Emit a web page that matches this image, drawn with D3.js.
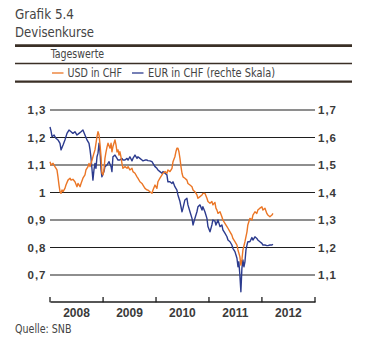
<!DOCTYPE html>
<html><head><meta charset="utf-8">
<script src="https://cdn.jsdelivr.net/npm/d3@7"></script>
<style>
html,body{margin:0;padding:0;background:#fff;}
svg{display:block;}
</style></head>
<body><svg id="c" width="382" height="355"></svg>
<script>
// ---- data ----
const usdDates = ["2008-01-01","2008-01-08","2008-01-22","2008-02-04","2008-02-18","2008-02-25","2008-03-03","2008-03-10","2008-03-17","2008-03-24","2008-03-31","2008-04-13","2008-04-20","2008-05-04","2008-05-18","2008-05-25","2008-06-07","2008-06-21","2008-07-05","2008-07-12","2008-07-26","2008-08-02","2008-08-15","2008-08-29","2008-09-05","2008-09-19","2008-09-26","2008-10-03","2008-10-17","2008-10-30","2008-11-06","2008-11-13","2008-11-20","2008-11-27","2008-12-04","2008-12-11","2008-12-18","2008-12-24","2008-12-31","2009-01-07","2009-01-14","2009-01-21","2009-01-28","2009-02-04","2009-02-18","2009-02-25","2009-03-03","2009-03-10","2009-03-24","2009-03-31","2009-04-07","2009-04-14","2009-04-21","2009-04-27","2009-05-04","2009-05-11","2009-05-18","2009-06-01","2009-06-15","2009-06-22","2009-07-05","2009-07-19","2009-07-26","2009-08-09","2009-08-23","2009-08-29","2009-09-12","2009-09-26","2009-10-03","2009-10-17","2009-10-31","2009-11-06","2009-11-20","2009-12-04","2009-12-11","2009-12-25","2010-01-07","2010-01-14","2010-01-28","2010-02-11","2010-02-18","2010-03-04","2010-03-17","2010-03-24","2010-04-07","2010-04-21","2010-04-28","2010-05-11","2010-05-18","2010-05-25","2010-06-01","2010-06-08","2010-06-15","2010-06-22","2010-06-29","2010-07-06","2010-07-19","2010-08-02","2010-08-09","2010-08-23","2010-09-06","2010-09-13","2010-09-26","2010-10-10","2010-10-17","2010-10-31","2010-11-14","2010-11-20","2010-12-04","2010-12-18","2010-12-25","2011-01-08","2011-01-21","2011-01-28","2011-02-11","2011-02-18","2011-02-25","2011-03-04","2011-03-18","2011-03-31","2011-04-07","2011-04-21","2011-05-05","2011-05-12","2011-05-26","2011-06-08","2011-06-15","2011-06-29","2011-07-13","2011-07-20","2011-08-02","2011-08-09","2011-08-16","2011-08-23","2011-09-06","2011-09-20","2011-09-26","2011-10-10","2011-10-24","2011-10-31","2011-11-14","2011-11-27","2011-12-04","2011-12-18","2012-01-01","2012-01-08","2012-01-22","2012-02-04","2012-02-11","2012-02-25","2012-03-10","2012-03-17"];
const usdInChf = [1.112,1.100,1.106,1.094,1.082,1.057,1.027,1.003,0.997,1.009,1.003,1.015,1.027,1.045,1.052,1.045,1.048,1.039,1.021,1.033,1.021,1.033,1.052,1.064,1.082,1.094,1.106,1.094,1.118,1.143,1.155,1.179,1.203,1.221,1.209,1.173,1.130,1.070,1.064,1.082,1.125,1.147,1.165,1.179,1.161,1.179,1.148,1.167,1.191,1.173,1.148,1.155,1.136,1.148,1.130,1.106,1.088,1.094,1.088,1.094,1.082,1.088,1.076,1.070,1.057,1.052,1.039,1.033,1.027,1.015,1.009,1.009,1.003,0.997,1.009,1.027,1.015,1.039,1.052,1.064,1.070,1.076,1.070,1.082,1.076,1.088,1.112,1.130,1.148,1.161,1.161,1.148,1.124,1.094,1.070,1.057,1.052,1.045,1.033,1.027,1.021,1.009,1.003,0.991,0.979,0.985,0.991,0.997,0.997,0.979,0.967,0.961,0.967,0.955,0.964,0.943,0.936,0.924,0.930,0.912,0.900,0.888,0.876,0.870,0.857,0.845,0.833,0.821,0.809,0.791,0.767,0.736,0.755,0.791,0.821,0.857,0.882,0.906,0.900,0.918,0.930,0.924,0.936,0.943,0.948,0.936,0.943,0.924,0.918,0.912,0.918,0.924];

const eurDates = ["2008-01-01","2008-01-08","2008-01-15","2008-01-29","2008-02-11","2008-02-25","2008-03-10","2008-03-17","2008-03-31","2008-04-13","2008-04-27","2008-05-11","2008-05-25","2008-06-07","2008-06-21","2008-07-05","2008-07-19","2008-08-02","2008-08-15","2008-08-29","2008-09-12","2008-09-26","2008-10-03","2008-10-10","2008-10-17","2008-10-23","2008-10-30","2008-11-06","2008-11-13","2008-11-20","2008-11-27","2008-12-04","2008-12-11","2008-12-18","2008-12-24","2009-01-07","2009-01-14","2009-01-28","2009-02-11","2009-02-25","2009-03-03","2009-03-10","2009-03-24","2009-04-07","2009-04-14","2009-04-27","2009-05-11","2009-05-18","2009-06-01","2009-06-15","2009-06-22","2009-07-05","2009-07-19","2009-07-26","2009-08-09","2009-08-23","2009-08-29","2009-09-12","2009-09-26","2009-10-03","2009-10-17","2009-10-31","2009-11-06","2009-11-20","2009-12-04","2009-12-11","2009-12-25","2010-01-07","2010-01-14","2010-01-28","2010-02-11","2010-02-18","2010-03-04","2010-03-17","2010-03-24","2010-04-07","2010-04-21","2010-04-28","2010-05-11","2010-05-25","2010-06-01","2010-06-15","2010-06-29","2010-07-06","2010-07-19","2010-08-02","2010-08-09","2010-08-23","2010-09-06","2010-09-13","2010-09-26","2010-10-10","2010-10-17","2010-10-31","2010-11-14","2010-11-20","2010-12-04","2010-12-18","2010-12-25","2011-01-08","2011-01-21","2011-01-28","2011-02-11","2011-02-18","2011-03-04","2011-03-18","2011-03-31","2011-04-07","2011-04-21","2011-05-05","2011-05-12","2011-05-26","2011-06-08","2011-06-15","2011-06-29","2011-07-13","2011-07-20","2011-07-26","2011-08-02","2011-08-09","2011-08-16","2011-08-23","2011-08-30","2011-09-06","2011-09-13","2011-09-20","2011-09-26","2011-10-10","2011-10-24","2011-10-31","2011-11-14","2011-11-27","2011-12-04","2011-12-18","2012-01-01","2012-01-08","2012-01-22","2012-02-04","2012-02-11","2012-02-25","2012-03-10","2012-03-17"];
const eurInChf = [1.638,1.624,1.603,1.609,1.597,1.591,1.579,1.555,1.573,1.591,1.615,1.627,1.621,1.615,1.621,1.609,1.615,1.621,1.627,1.609,1.591,1.579,1.555,1.524,1.482,1.445,1.482,1.506,1.488,1.530,1.543,1.579,1.548,1.482,1.457,1.476,1.494,1.500,1.512,1.494,1.476,1.530,1.536,1.524,1.518,1.518,1.524,1.518,1.518,1.524,1.518,1.530,1.515,1.524,1.536,1.524,1.530,1.524,1.518,1.515,1.518,1.518,1.516,1.515,1.512,1.506,1.494,1.488,1.482,1.476,1.470,1.476,1.470,1.464,1.439,1.439,1.433,1.439,1.421,1.409,1.391,1.367,1.330,1.343,1.373,1.379,1.355,1.330,1.306,1.282,1.306,1.330,1.348,1.355,1.336,1.348,1.330,1.306,1.276,1.257,1.282,1.300,1.296,1.282,1.300,1.276,1.282,1.264,1.252,1.239,1.227,1.221,1.209,1.197,1.185,1.161,1.130,1.148,1.100,1.039,1.124,1.155,1.130,1.148,1.191,1.209,1.221,1.221,1.236,1.227,1.239,1.233,1.227,1.221,1.215,1.209,1.209,1.207,1.207,1.209,1.209,1.212];

const leftTicks = [0.7,0.8,0.9,1.0,1.1,1.2,1.3];
const leftTickLabels = ["0,7","0,8","0,9","1","1,1","1,2","1,3"];
const rightTicks = [1.1,1.2,1.3,1.4,1.5,1.6,1.7];
const rightTickLabels = ["1,1","1,2","1,3","1,4","1,5","1,6","1,7"];
const years = ["2008","2009","2010","2011","2012"];
const titleLines = ["Grafik 5.4","Devisenkurse"];
const subtitle = "Tageswerte";
const seriesNames = ["USD in CHF","EUR in CHF (rechte Skala)"];
const source = "Quelle: SNB";

// ---- drawing ----
const svg = d3.select("#c");
const parse = d3.timeParse("%Y-%m-%d");
const headFont = "'Liberation Sans Narrow','Arial Narrow','DejaVu Sans Condensed',sans-serif";
const tickFont = "'Liberation Sans',Arial,sans-serif";
const orange = "#EB7626", blue = "#2C3B8E", rule = "#3a2f26", grid = "#1e1e1e";

svg.append("rect").attr("width",382).attr("height",355).attr("fill","#fff");

function txt(t, x, y, size, len, opts={}) {
  const e = svg.append("text").attr("x",x).attr("y",y).text(t)
    .attr("font-family", opts.family || headFont).attr("font-size",size)
    .attr("fill", opts.fill || "#444");
  if (len) e.attr("textLength",len).attr("lengthAdjust","spacingAndGlyphs");
  if (opts.weight) e.attr("font-weight",opts.weight);
  if (opts.anchor) e.attr("text-anchor",opts.anchor);
  return e;
}
txt(titleLines[0], 15, 18.5, 14, 59);
txt(titleLines[1], 15, 36.5, 14, 79);
svg.append("line").attr("x1",15).attr("x2",352).attr("y1",45.6).attr("y2",45.6).attr("stroke",rule).attr("stroke-width",2.6);
txt(subtitle, 50.7, 58, 11.5, 53.5);
svg.append("line").attr("x1",15).attr("x2",352).attr("y1",63.5).attr("y2",63.5).attr("stroke",rule).attr("stroke-width",1.5);
svg.append("line").attr("x1",15).attr("x2",352).attr("y1",81.7).attr("y2",81.7).attr("stroke",rule).attr("stroke-width",2.2);
// legend
svg.append("line").attr("x1",52).attr("x2",63.5).attr("y1",73).attr("y2",73).attr("stroke",orange).attr("stroke-width",1.3);
txt(seriesNames[0], 67.5, 77, 12.5, 54.5);
svg.append("line").attr("x1",132).attr("x2",143.5).attr("y1",73).attr("y2",73).attr("stroke",blue).attr("stroke-width",1.3);
txt(seriesNames[1], 148, 77, 12.5, 127);

// scales
const x = d3.scaleTime().domain([new Date(2008,0,1), new Date(2013,0,1)]).range([50,315]);
const yL = d3.scaleLinear().domain([0.7,1.3]).range([275,110]);
const yR = d3.scaleLinear().domain([1.1,1.7]).range([275,110]);

// gridlines
svg.append("g").selectAll("line").data(leftTicks).join("line")
  .attr("x1",50).attr("x2",315).attr("y1",d=>yL(d)).attr("y2",d=>yL(d))
  .attr("stroke",grid).attr("stroke-width",1.2);
// tick labels
svg.append("g").selectAll("text").data(leftTicks).join("text")
  .attr("x",46.5).attr("y",d=>yL(d)+4.2).attr("text-anchor","end")
  .attr("font-family",tickFont).attr("font-size",11.5).attr("font-weight","bold")
  .attr("letter-spacing",1).attr("fill","#3a3a3a").text((d,i)=>leftTickLabels[i]);
svg.append("g").selectAll("text").data(rightTicks).join("text")
  .attr("x",318).attr("y",d=>yR(d)+4.2)
  .attr("font-family",tickFont).attr("font-size",11.5).attr("font-weight","bold")
  .attr("letter-spacing",1).attr("fill","#3a3a3a").text((d,i)=>rightTickLabels[i]);

// x axis
const xAxis = d3.axisBottom(x).ticks(d3.timeYear.every(1)).tickSize(0).tickFormat("");
const gx = svg.append("g").attr("transform","translate(0,301.5)").call(xAxis);
gx.select(".domain").attr("stroke",grid).attr("stroke-width",1.5);
const yearStarts = x.ticks(d3.timeYear.every(1));
svg.append("g").selectAll("line").data(yearStarts).join("line")
  .attr("x1",d=>x(d)).attr("x2",d=>x(d)).attr("y1",297).attr("y2",302.2)
  .attr("stroke",grid).attr("stroke-width",1.3);
svg.append("g").selectAll("text").data(years).join("text")
  .attr("x",d=>x(new Date(+d,6,2))).attr("y",316.5).attr("text-anchor","middle")
  .attr("font-family",tickFont).attr("font-size",12).attr("font-weight","bold")
  .attr("fill","#3a3a3a").text(d=>d);

// lines
const eurData = eurDates.map((d,i)=>({d:parse(d), v:eurInChf[i]}));
const usdData = usdDates.map((d,i)=>({d:parse(d), v:usdInChf[i]}));
svg.append("path").datum(eurData).attr("fill","none").attr("stroke",blue).attr("stroke-width",1.4)
  .attr("stroke-linejoin","round").attr("d", d3.line().x(p=>x(p.d)).y(p=>yR(p.v)));
svg.append("path").datum(usdData).attr("fill","none").attr("stroke",orange).attr("stroke-width",1.4)
  .attr("stroke-linejoin","round").attr("d", d3.line().x(p=>x(p.d)).y(p=>yL(p.v)));

txt(source, 15, 333, 12, 56.5);
</script></body></html>
